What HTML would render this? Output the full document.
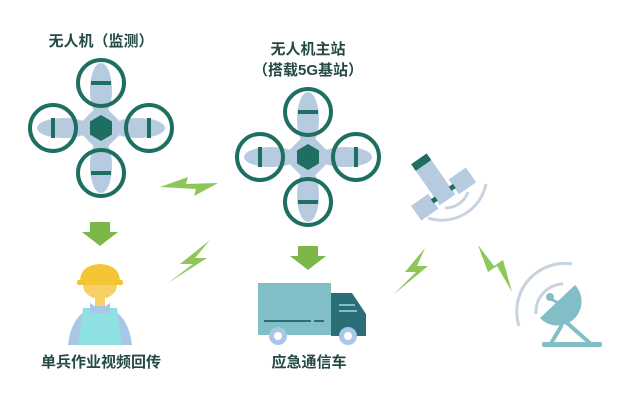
<!DOCTYPE html>
<html><head><meta charset="utf-8"><style>
html,body{margin:0;padding:0;background:#fff;}
svg{display:block;}
text{font-family:"Liberation Sans","Noto Sans CJK SC",sans-serif;fill:#244a45;font-size:15px;text-anchor:middle;font-weight:bold;}
</style></head><body>
<svg width="640" height="405" viewBox="0 0 640 405" xmlns="http://www.w3.org/2000/svg">
<defs>
<g id="drone">
  <ellipse cx="0" cy="-38" rx="11" ry="27" fill="#b7cbe0"/>
  <ellipse cx="0" cy="38" rx="11" ry="27" fill="#b7cbe0"/>
  <ellipse cx="-37" cy="0" rx="27" ry="10" fill="#b7cbe0"/>
  <ellipse cx="37" cy="0" rx="27" ry="10" fill="#b7cbe0"/>
  <rect x="-18" y="-18" width="36" height="36" fill="#b7cbe0" transform="rotate(45)"/>
  <circle cx="0" cy="-45" r="23" fill="none" stroke="#1e6e62" stroke-width="4"/>
  <circle cx="0" cy="45" r="23" fill="none" stroke="#1e6e62" stroke-width="4"/>
  <circle cx="-48" cy="0" r="23" fill="none" stroke="#1e6e62" stroke-width="4"/>
  <circle cx="48" cy="0" r="23" fill="none" stroke="#1e6e62" stroke-width="4"/>
  <rect x="-10" y="-47" width="20" height="4" fill="#1e6e62"/>
  <rect x="-10" y="43" width="20" height="4" fill="#1e6e62"/>
  <rect x="-50" y="-10" width="4" height="20" fill="#1e6e62"/>
  <rect x="46" y="-10" width="4" height="20" fill="#1e6e62"/>
  <polygon points="0,-13 11,-6.5 11,6.5 0,13 -11,6.5 -11,-6.5" fill="#1e6e62"/>
</g>
<polygon id="arrow" points="-10,0 10,0 10,10 18,10 0,24 -18,10 -10,10" fill="#7ab648"/>
</defs>

<text x="101" y="46">无人机（监测）</text>
<use href="#drone" x="101" y="128"/>
<text x="308" y="54">无人机主站</text>
<text x="308" y="75">（搭载5G基站）</text>
<use href="#drone" x="308" y="157"/>

<use href="#arrow" x="100" y="222"/>
<use href="#arrow" x="308" y="246"/>

<!-- bolts -->
<polygon points="160,187 188,177 186,184 218,183 194,196 196,189" fill="#8cc757"/>
<polygon points="210,240 180,264 193,264 168,283 207,258 195,258" fill="#8cc757"/>
<polygon points="425,248 405,272 416,272 393,295 428,266 417,266" fill="#8cc757"/>
<polygon points="478,245 488,272 497,266 512,292 503,260 494,266" fill="#8cc757"/>

<!-- person -->
<path d="M68,345 Q72,310 100,305 Q128,310 132,345 Z" fill="#a8c7e6"/>
<path d="M83,308 L117,308 L122,345 L78,345 Z" fill="#8fe0e0"/>
<path d="M90,303 L100,310 L110,303 L110,313 L90,313Z" fill="#a8c7e6"/>
<rect x="95" y="292" width="10" height="14" fill="#f5d166"/>
<ellipse cx="100" cy="285" rx="17" ry="14" fill="#f5d166"/>
<path d="M80,282 Q80,265 100,264 Q120,265 120,282 Z" fill="#f3c534"/>
<rect x="77" y="280" width="46" height="5" rx="2" fill="#f3c534"/>
<text x="101" y="367">单兵作业视频回传</text>

<!-- truck -->
<rect x="258" y="283" width="73" height="52" fill="#82bec5"/>
<path d="M331,293 L352,293 L366,314 L366,336 L331,336 Z" fill="#2a6f78"/>
<rect x="339" y="304" width="16" height="2" fill="#82bec5"/>
<rect x="339" y="310" width="18" height="2" fill="#82bec5"/>
<rect x="264" y="320" width="47" height="2" fill="#2a6f78"/>
<rect x="314" y="320" width="10" height="2" fill="#2a6f78"/>
<circle cx="278" cy="336" r="9" fill="#a8c7e6"/><circle cx="278" cy="336" r="4" fill="#fff"/>
<circle cx="348" cy="336" r="9" fill="#a8c7e6"/><circle cx="348" cy="336" r="4" fill="#fff"/>
<text x="309" y="367">应急通信车</text>

<!-- satellite -->
<g transform="translate(438,187) rotate(-35)">
  <rect x="-9" y="-30" width="19" height="46" fill="#b7cbe0"/>
  <rect x="-9" y="-34" width="19" height="8" fill="#1e6e62"/>
  <rect x="-33" y="0" width="21" height="18" fill="#b7cbe0"/>
  <rect x="13" y="0" width="21" height="18" fill="#b7cbe0"/>
  <rect x="-13" y="6" width="5" height="5" fill="#1e6e62"/>
  <rect x="9" y="6" width="5" height="5" fill="#1e6e62"/>
</g>
<path d="M428,218 A45,45 0 0 0 486,184" fill="none" stroke="#c7d3e0" stroke-width="3"/>
<path d="M445,208 A24,24 0 0 0 468,192" fill="none" stroke="#c7d3e0" stroke-width="3"/>

<!-- dish -->
<path d="M519,326 A48,48 0 0 1 572,264" fill="none" stroke="#c7d3e0" stroke-width="3"/>
<path d="M536,314 A28,28 0 0 1 563,284" fill="none" stroke="#c7d3e0" stroke-width="3"/>
<path d="M540,318 L575,285 A24,24 0 0 1 540,318 Z" fill="#82bec5"/>
<line x1="551" y1="299" x2="560" y2="304" stroke="#82bec5" stroke-width="3"/>
<circle cx="550" cy="297" r="4" fill="#82bec5"/>
<line x1="562" y1="325" x2="550" y2="345" stroke="#82bec5" stroke-width="4"/>
<line x1="566" y1="322" x2="592" y2="345" stroke="#82bec5" stroke-width="4"/>
<rect x="542" y="342" width="60" height="5" rx="2" fill="#82bec5"/>
</svg>
</body></html>
